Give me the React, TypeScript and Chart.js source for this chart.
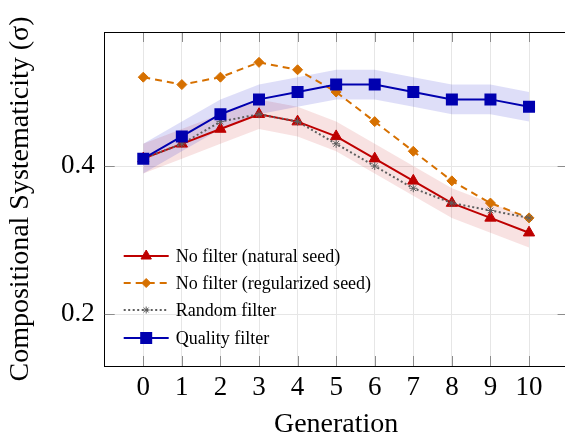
import React, { useEffect, useRef } from 'react';
import { Chart, registerables } from 'chart.js';

Chart.register(...registerables);

// ---- data ----
const generations = [0, 1, 2, 3, 4, 5, 6, 7, 8, 9, 10];
const naturalSeed = [0.41, 0.43, 0.45, 0.47, 0.46, 0.44, 0.41, 0.38, 0.35, 0.33, 0.31];
const regularizedSeed = [0.52, 0.51, 0.52, 0.54, 0.53, 0.50, 0.46, 0.42, 0.38, 0.35, 0.33];
const randomFilter = [0.41, 0.43, 0.46, 0.47, 0.46, 0.43, 0.40, 0.37, 0.35, 0.34, 0.33];
const qualityFilter = [0.41, 0.44, 0.47, 0.49, 0.50, 0.51, 0.51, 0.50, 0.49, 0.49, 0.48];
const naturalSpread = [0.02, 0.02, 0.02, 0.02, 0.02, 0.02, 0.02, 0.02, 0.02, 0.02, 0.02];
const qualitySpread = [0.02, 0.02, 0.02, 0.02, 0.02, 0.02, 0.02, 0.02, 0.02, 0.02, 0.02];
const xTicks = [0, 1, 2, 3, 4, 5, 6, 7, 8, 9, 10];
const yTicks = [0.2, 0.4];
const legendLabels = [
  'No filter (natural seed)',
  'No filter (regularized seed)',
  'Random filter',
  'Quality filter',
];

const RED = 'rgb(190,0,0)';
const ORANGE = 'rgb(214,112,0)';
const GRAY = 'rgb(95,95,95)';
const BLUE = 'rgb(0,0,175)';
const SERIF = '"Liberation Serif", "Times New Roman", serif';

const pts = (ys: number[]) => generations.map((g, i) => ({ x: g, y: ys[i] }));
const band = (ys: number[], sp: number[], s: number) =>
  generations.map((g, i) => ({ x: g, y: ys[i] + s * sp[i] }));

function drawMarker(ctx: CanvasRenderingContext2D, kind: string, x: number, y: number, color: string) {
  ctx.save();
  ctx.setLineDash([]);
  ctx.fillStyle = color;
  ctx.strokeStyle = color;
  ctx.lineWidth = 1;
  ctx.beginPath();
  if (kind === 'triangle') {
    const r = 6;
    ctx.moveTo(x, y - r);
    ctx.lineTo(x + r * 0.866, y + r * 0.5);
    ctx.lineTo(x - r * 0.866, y + r * 0.5);
    ctx.closePath();
    ctx.fill();
    ctx.stroke();
  } else if (kind === 'diamond') {
    const r = 4.5;
    ctx.moveTo(x, y - r);
    ctx.lineTo(x + r, y);
    ctx.lineTo(x, y + r);
    ctx.lineTo(x - r, y);
    ctx.closePath();
    ctx.fill();
    ctx.stroke();
  } else if (kind === 'square') {
    const s = 6;
    ctx.rect(x - s, y - s, 2 * s, 2 * s);
    ctx.fill();
  } else if (kind === 'star') {
    const r = 3.5;
    for (let k = 0; k < 4; k++) {
      const a = (Math.PI / 4) * k;
      ctx.moveTo(x - r * Math.cos(a), y - r * Math.sin(a));
      ctx.lineTo(x + r * Math.cos(a), y + r * Math.sin(a));
    }
    ctx.stroke();
  }
  ctx.restore();
}

const framePlugin = {
  id: 'frameTicks',
  beforeDatasetsDraw(chart: any) {
    const { ctx, chartArea: a, scales } = chart;
    ctx.save();
    ctx.strokeStyle = 'rgb(140,140,140)';
    ctx.lineWidth = 1;
    ctx.beginPath();
    const tl = 10;
    xTicks.forEach((v) => {
      const px = Math.round(scales.x.getPixelForValue(v)) + 0.5;
      ctx.moveTo(px, a.top);
      ctx.lineTo(px, a.top + tl);
      ctx.moveTo(px, a.bottom);
      ctx.lineTo(px, a.bottom - tl);
    });
    yTicks.forEach((v) => {
      const py = Math.round(scales.y.getPixelForValue(v)) + 0.5;
      ctx.moveTo(a.left, py);
      ctx.lineTo(a.left + tl, py);
      ctx.moveTo(a.right, py);
      ctx.lineTo(a.right - tl, py);
    });
    ctx.stroke();
    ctx.restore();
  },
  afterDraw(chart: any) {
    const { ctx, chartArea: a } = chart;
    ctx.save();
    ctx.strokeStyle = '#000';
    ctx.lineWidth = 1;
    ctx.beginPath();
    ctx.moveTo(a.left, Math.round(a.top) + 0.5);
    ctx.lineTo(a.right, Math.round(a.top) + 0.5);
    ctx.moveTo(Math.round(a.right) + 0.5, a.top);
    ctx.lineTo(Math.round(a.right) + 0.5, a.bottom);
    ctx.stroke();

    // legend
    const items = [
      { color: RED, dash: [] as number[], marker: 'triangle' },
      { color: ORANGE, dash: [7, 5], marker: 'diamond' },
      { color: GRAY, dash: [2, 2.5], marker: 'star' },
      { color: BLUE, dash: [] as number[], marker: 'square' },
    ];
    const x0 = a.left + 19;
    const x1 = a.left + 64;
    const ys = [256, 283, 310, 338];
    ctx.font = `18px ${SERIF}`;
    ctx.textBaseline = 'middle';
    ctx.textAlign = 'left';
    items.forEach((it, i) => {
      const y = ys[i];
      ctx.save();
      ctx.strokeStyle = it.color;
      ctx.lineWidth = 2;
      ctx.setLineDash(it.dash);
      ctx.beginPath();
      ctx.moveTo(x0, y);
      ctx.lineTo(x1, y);
      ctx.stroke();
      ctx.restore();
      drawMarker(ctx, it.marker, (x0 + x1) / 2, y, it.color);
      ctx.fillStyle = '#000';
      ctx.fillText(legendLabels[i], x1 + 7, y + 1);
    });
    ctx.restore();
  },
};

export default function App() {
  const ref = useRef<HTMLCanvasElement>(null);
  useEffect(() => {
    if (!ref.current) return;
    const W = 580;
    const chart = new Chart(ref.current, {
      type: 'line',
      data: {
        datasets: [
          {
            label: 'q-upper',
            data: band(qualityFilter, qualitySpread, 1),
            borderWidth: 0,
            pointRadius: 0,
            fill: false,
            order: 10,
          },
          {
            label: 'q-lower',
            data: band(qualityFilter, qualitySpread, -1),
            borderWidth: 0,
            pointRadius: 0,
            fill: '-1',
            backgroundColor: 'rgba(0,0,200,0.13)',
            order: 10,
          },
          {
            label: 'n-upper',
            data: band(naturalSeed, naturalSpread, 1),
            borderWidth: 0,
            pointRadius: 0,
            fill: false,
            order: 11,
          },
          {
            label: 'n-lower',
            data: band(naturalSeed, naturalSpread, -1),
            borderWidth: 0,
            pointRadius: 0,
            fill: '-1',
            backgroundColor: 'rgba(200,30,30,0.13)',
            order: 11,
          },
          {
            label: legendLabels[0],
            data: pts(naturalSeed),
            borderColor: RED,
            backgroundColor: RED,
            borderWidth: 2,
            pointStyle: 'triangle',
            pointRadius: 6.5,
            pointBorderWidth: 1,
            order: 4,
          },
          {
            label: legendLabels[1],
            data: pts(regularizedSeed),
            borderColor: ORANGE,
            backgroundColor: ORANGE,
            borderWidth: 2,
            borderDash: [7, 5],
            pointStyle: 'rectRot',
            pointRadius: 5,
            pointBorderWidth: 1,
            order: 3,
          },
          {
            label: legendLabels[2],
            data: pts(randomFilter),
            borderColor: GRAY,
            backgroundColor: GRAY,
            borderWidth: 2,
            borderDash: [2, 2.5],
            pointStyle: 'star',
            pointRadius: 4,
            pointBorderWidth: 1,
            order: 2,
          },
          {
            label: legendLabels[3],
            data: pts(qualityFilter),
            borderColor: BLUE,
            backgroundColor: BLUE,
            borderWidth: 2,
            pointStyle: 'rect',
            pointRadius: 8.5,
            pointBorderWidth: 0,
            order: 1,
          },
        ],
      },
      options: {
        animation: false,
        responsive: false,
        devicePixelRatio: 1,
        layout: { padding: { left: 0, top: 32, right: W - 567.6, bottom: 0 } },
        plugins: { legend: { display: false }, tooltip: { enabled: false } },
        scales: {
          x: {
            type: 'linear',
            min: -1,
            max: 11,
            afterBuildTicks: (s: any) => {
              s.ticks = xTicks.map((v) => ({ value: v }));
            },
            afterFit: (s: any) => {
              s.height = 70;
            },
            grid: { color: 'rgb(230,230,230)', drawTicks: false, lineWidth: 1 },
            border: { display: true, color: '#000', width: 1 },
            ticks: {
              font: { family: SERIF, size: 27 },
              color: '#000',
              padding: 6,
              maxRotation: 0,
              autoSkip: false,
              callback: (v: any) => String(v),
            },
            title: {
              display: true,
              text: 'Generation',
              color: '#000',
              font: { family: SERIF, size: 28, lineHeight: 0.8 },
              padding: { top: 0, bottom: 0 },
            },
          },
          y: {
            type: 'linear',
            min: 0.13,
            max: 0.581,
            afterBuildTicks: (s: any) => {
              s.ticks = yTicks.map((v) => ({ value: v }));
            },
            afterFit: (s: any) => {
              s.width = 104.7;
            },
            grid: { color: 'rgb(230,230,230)', drawTicks: false, lineWidth: 1 },
            border: { display: true, color: '#000', width: 1 },
            ticks: {
              font: { family: SERIF, size: 27 },
              color: '#000',
              padding: 10,
              callback: (v: any) => Number(v).toFixed(1),
            },
            title: {
              display: true,
              text: 'Compositional Systematicity (σ)',
              color: '#000',
              font: { family: SERIF, size: 28, lineHeight: 1.2 },
              padding: { top: 4, bottom: 0 },
            },
          },
        },
      },
      plugins: [framePlugin],
    } as any);
    return () => chart.destroy();
  }, []);

  return (
    <div style={{ position: 'fixed', left: 0, top: 0, width: 565, height: 436, overflow: 'hidden', background: '#fff' }}>
      <canvas ref={ref} width={580} height={436} style={{ display: 'block', width: 580, height: 436 }} />
    </div>
  );
}
